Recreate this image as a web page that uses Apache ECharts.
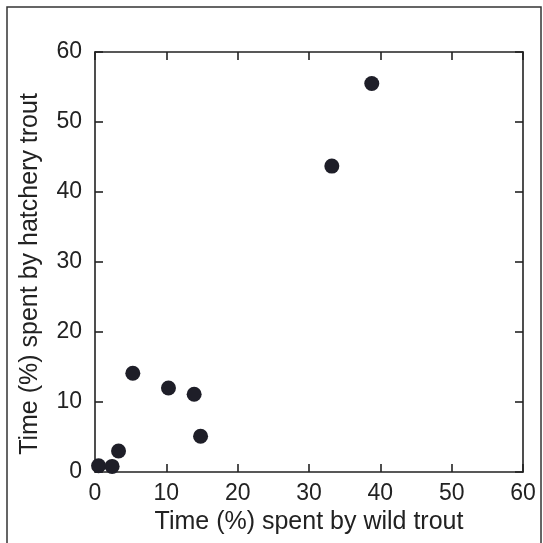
<!DOCTYPE html>
<html>
<head>
<meta charset="utf-8">
<script src="https://cdn.jsdelivr.net/npm/echarts@6/dist/echarts.min.js"></script>
<style>
html,body{margin:0;padding:0;background:#fff;}
#chart{width:543px;height:543px;}
</style>
</head>
<body>
<div id="chart"></div>
<script>
// Data
var wildTrout     = [0.5, 2.4, 3.3, 5.3, 10.3, 13.9, 14.8, 33.2, 38.8];
var hatcheryTrout = [0.9, 0.8, 3.0, 14.1, 12.0, 11.1, 5.1, 43.7, 55.5];
var xTitle = 'Time (%) spent by wild trout';
var yTitle = 'Time (%) spent by hatchery trout';
var axisMin = 0, axisMax = 60, axisStep = 10;

var points = wildTrout.map(function (x, i) { return [x, hatcheryTrout[i]]; });

var ink = '#222';
var font = 'Liberation Sans, Arial, Helvetica, sans-serif';

function axisBase(extra) {
  var a = {
    min: axisMin, max: axisMax, interval: axisStep,
    axisLine: { show: true, onZero: false, lineStyle: { color: ink, width: 1.6 } },
    axisTick: { show: true, inside: true, length: 8, lineStyle: { color: ink, width: 1.6 } },
    splitLine: { show: false },
    axisLabel: { show: false }
  };
  for (var k in extra) a[k] = extra[k];
  return a;
}

var chart = echarts.init(document.getElementById('chart'), null, { renderer: 'canvas' });
chart.setOption({
  animation: false,
  backgroundColor: '#fff',
  grid: { left: 95, right: 20, top: 52, bottom: 71, containLabel: false },
  graphic: [{
    type: 'rect',
    shape: { x: 7, y: 7, width: 534, height: 545 },
    style: { fill: 'none', stroke: '#333', lineWidth: 1.5 },
    silent: true
  }],
  xAxis: [
    axisBase({
      type: 'value', position: 'bottom',
      axisLabel: { show: true, color: ink, fontSize: 23, fontFamily: font, margin: 10 },
      name: xTitle, nameLocation: 'middle', nameGap: 35,
      nameTextStyle: { color: ink, fontSize: 25, fontFamily: font }
    }),
    axisBase({ type: 'value', position: 'top' })
  ],
  yAxis: [
    axisBase({
      type: 'value', position: 'left',
      axisLabel: { show: true, color: ink, fontSize: 23, fontFamily: font, margin: 13 },
      name: yTitle, nameLocation: 'middle', nameGap: 52,
      nameTextStyle: { color: ink, fontSize: 25, fontFamily: font, padding: [0, 24, 0, 0] }
    }),
    axisBase({ type: 'value', position: 'right' })
  ],
  series: [{
    type: 'scatter',
    xAxisIndex: 0, yAxisIndex: 0,
    data: points,
    symbol: 'circle',
    symbolSize: 15,
    itemStyle: { color: '#1e1e28', opacity: 1 }
  }]
});
</script>
</body>
</html>
